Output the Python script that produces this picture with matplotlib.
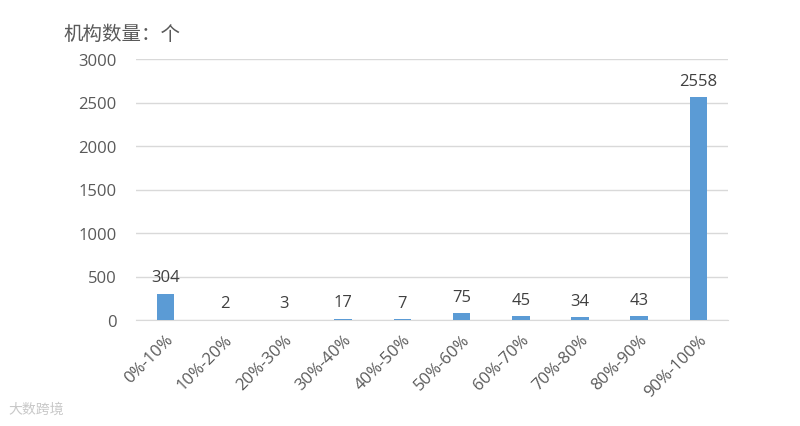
import matplotlib
matplotlib.use('Agg')
import matplotlib.pyplot as plt

plt.rcParams['font.family'] = ['Open Sans', 'Noto Sans CJK SC', 'DejaVu Sans']

categories = ['0%-10%', '10%-20%', '20%-30%', '30%-40%', '40%-50%',
              '50%-60%', '60%-70%', '70%-80%', '80%-90%', '90%-100%']
counts = [304, 2, 3, 17, 7, 75, 45, 34, 43, 2558]
yticks = [0, 500, 1000, 1500, 2000, 2500, 3000]

fig = plt.figure(figsize=(8, 4.27), dpi=100)
ax = fig.add_axes([136 / 800, 1 - 321 / 427, 592 / 800, 261 / 427])

x = range(len(categories))
ax.bar(x, counts, width=0.3, color='#5B9BD5', zorder=3)

for i, v in zip(x, counts):
    ax.annotate(str(v), (i, v), xytext=(0, 6), textcoords='offset points',
                ha='center', va='bottom', fontsize=12, color='#404040')

ax.set_xlim(-0.5, len(categories) - 0.5)
ax.set_ylim(0, 3000)
ax.set_yticks(yticks)
ax.set_yticklabels([str(t) for t in yticks])
ax.set_xticks(list(x))
ax.set_xticklabels(categories, rotation=45, ha='right', rotation_mode='anchor')

ax.grid(axis='y', color='#d9d9d9', linewidth=1, zorder=0)
for s in ['top', 'right', 'left']:
    ax.spines[s].set_visible(False)
ax.spines['bottom'].set_color('#d9d9d9')
ax.tick_params(axis='both', length=0, labelsize=12, colors='#595959')
ax.tick_params(axis='y', pad=14)
ax.tick_params(axis='x', pad=8)

fig.text(63 / 800, 1 - 34 / 427, '机构数量：个', family=['Noto Sans CJK SC'],
         fontsize=14, color='#595959', va='center', ha='left')
fig.text(8 / 800, 1 - 410 / 427, '大数跨境', family=['Noto Sans CJK SC'],
         fontsize=10, color='#c8c8c8', va='center', ha='left')

fig.savefig('out.png', dpi=100)
